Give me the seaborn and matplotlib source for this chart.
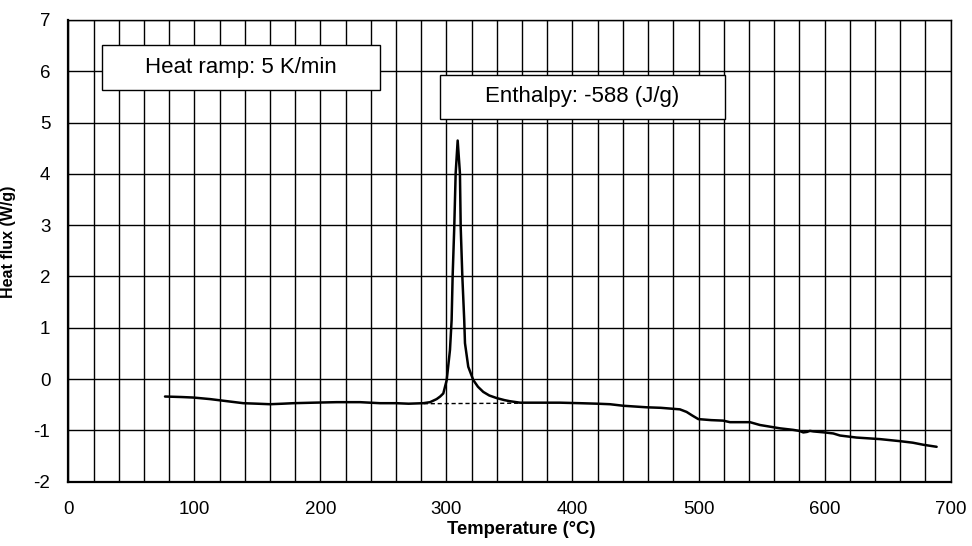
import matplotlib
matplotlib.use("Agg")
import matplotlib.pyplot as plt
from matplotlib.ticker import MultipleLocator
from matplotlib.patches import Rectangle
import seaborn as sns
import pandas as pd

# ---- data ----
temperature = [76.7, 90, 99.2, 112.4, 125.6, 138.8, 150, 160, 170, 178.5, 194.4,
               212.9, 231.4, 247.3, 260, 270, 281.6, 287, 292.2, 295, 297.5,
               300.2, 302.8, 304.1, 304.9, 306.2, 307.3, 308.9, 310.7, 311.3,
               312.6, 314.1, 314.7, 317.3, 321.3, 325, 329.2, 334, 339.8, 346,
               350, 358.3, 370, 380, 390, 405.9, 420, 429.7, 440.3, 458.8, 470,
               485.2, 490.5, 495, 499.8, 510, 519.6, 524.9, 540.8, 548.7, 564.6,
               575.1, 580, 583.1, 586, 588.4, 591, 600, 606.9, 612.2, 625.4,
               643.9, 659.8, 670, 678.3, 688.9]
heat_flux = [-0.34, -0.35, -0.36, -0.39, -0.43, -0.47, -0.48, -0.49, -0.48,
             -0.47, -0.46, -0.45, -0.45, -0.47, -0.47, -0.48, -0.47, -0.45,
             -0.39, -0.34, -0.28, -0.02, 0.57, 1.15, 2.0, 2.97, 4.01, 4.65,
             4.01, 2.97, 2.0, 1.15, 0.70, 0.24, -0.02, -0.15, -0.25, -0.32,
             -0.37, -0.41, -0.43, -0.46, -0.46, -0.46, -0.46, -0.47, -0.48,
             -0.49, -0.52, -0.55, -0.56, -0.59, -0.64, -0.71, -0.78, -0.80,
             -0.81, -0.84, -0.84, -0.895, -0.96, -0.99, -1.01, -1.04, -1.03,
             -1.01, -1.02, -1.04, -1.06, -1.10, -1.14, -1.17, -1.21, -1.24,
             -1.28, -1.32]
baseline_T = [282, 360]
baseline_H = [-0.48, -0.47]

x_ticks = [0, 100, 200, 300, 400, 500, 600, 700]
y_ticks = [-2, -1, 0, 1, 2, 3, 4, 5, 6, 7]
x_label = "Temperature (°C)"
y_label = "Heat flux (W/g)"
note_ramp = "Heat ramp: 5 K/min"
note_enthalpy = "Enthalpy: -588 (J/g)"

df = pd.DataFrame({"T": temperature, "H": heat_flux})
df_base = pd.DataFrame({"T": baseline_T, "H": baseline_H})

sns.set_theme(style="white")
plt.rcParams["font.family"] = ["Liberation Sans", "DejaVu Sans"]
plt.rcParams["axes.unicode_minus"] = False

fig = plt.figure(figsize=(9.72, 5.46), dpi=100)
ax = fig.add_axes([0.0703, 0.1178, 0.978 - 0.0703, 0.9634 - 0.1178])

sns.lineplot(data=df, x="T", y="H", ax=ax, color="black", linewidth=1.8,
             estimator=None, sort=False, zorder=5)
sns.lineplot(data=df_base, x="T", y="H", ax=ax, color="black", linewidth=1.0,
             linestyle=(0, (3, 2)), estimator=None, zorder=4)

ax.set_xlim(0, 700)
ax.set_ylim(-2, 7)
ax.set_xticks(x_ticks)
ax.set_yticks(y_ticks)
ax.xaxis.set_minor_locator(MultipleLocator(20))
ax.grid(True, which="major", axis="y", color="black", linewidth=1.0)
ax.grid(True, which="both", axis="x", color="black", linewidth=1.0)
ax.set_axisbelow(True)

ax.tick_params(axis="both", which="major", direction="out", length=5,
               width=1, color="black", labelsize=13.5, labelcolor="black")
ax.tick_params(axis="x", which="major", pad=9)
ax.tick_params(axis="y", which="major", pad=8)
ax.tick_params(axis="x", which="minor", length=0)

for side in ["left", "bottom", "right", "top"]:
    ax.spines[side].set_visible(True)
    ax.spines[side].set_color("black")
ax.spines["left"].set_linewidth(1.6)
ax.spines["bottom"].set_linewidth(1.6)
ax.spines["right"].set_linewidth(1.0)
ax.spines["top"].set_linewidth(1.0)

ax.set_xlabel(x_label, fontweight="bold", fontsize=13.3, color="black")
ax.set_ylabel(y_label, fontweight="bold", fontsize=11.5, color="black")
ax.xaxis.set_label_coords(0.5136, -0.085)
ax.yaxis.set_label_coords(-0.059, 0.52)

# annotation boxes (data coordinates)
ax.add_patch(Rectangle((26.7, 5.635), 247.1 - 26.7, 6.51 - 5.635,
                       facecolor="white", edgecolor="black", linewidth=1.0, zorder=6))
ax.text((26.7 + 247.1) / 2, (5.635 + 6.51) / 2, note_ramp, ha="center", va="center",
        fontsize=16, color="black", zorder=7)
ax.add_patch(Rectangle((294.9, 5.064), 520.9 - 294.9, 5.934 - 5.064,
                       facecolor="white", edgecolor="black", linewidth=1.0, zorder=6))
ax.text((294.9 + 520.9) / 2, (5.064 + 5.934) / 2, note_enthalpy, ha="center", va="center",
        fontsize=16, color="black", zorder=7)

fig.savefig("out.png", dpi=100)
